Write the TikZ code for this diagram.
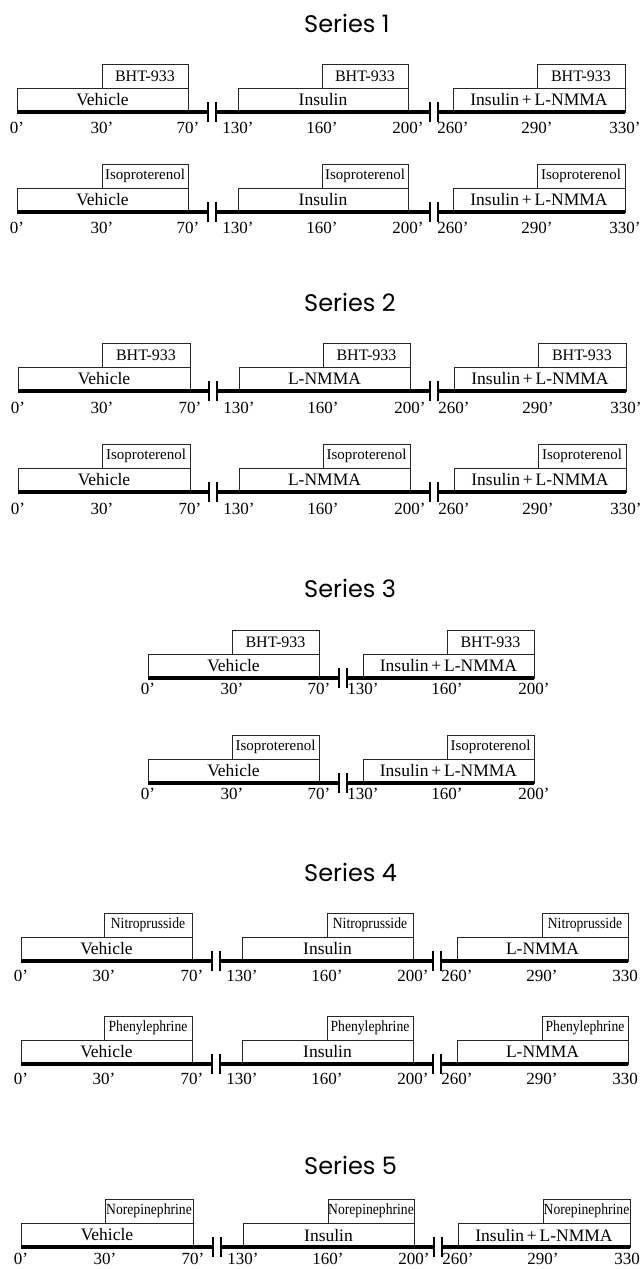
\documentclass[tikz,border=0pt]{standalone}
\usepackage{fontspec}
\setmainfont{Liberation Serif}
\newfontfamily\titlefont{Poppins}
\newfontfamily\drugfont[FakeStretch=0.88]{Liberation Serif}
\usetikzlibrary{positioning}
\newcommand{\BHT}{{\normalfont\fontsize{16}{16}\selectfont BHT-933}}
\newcommand{\Iso}{{\normalfont\fontsize{15}{15}\selectfont Isoproterenol}}
\newcommand{\InsL}{Insulin\,+\,L-NMMA}
\newcommand{\lastT}{330\hphantom{'}}
% one infusion period: name, left, drug start, right, main text, drug text, three times
\newcommand{\seg}[9]{%
	\node[mainbox,minimum width={(#4-#2)*1pt}](#1) at (#2,\ly) {#5};
	\node[drugbox,minimum width={(#4-#3)*1pt}](#1d) at (#1.north east) {#6};
	\node[tick](#1t1) at (#2,\ly+\toff) {#7};
	\node[tick](#1t2) at (#3,\ly+\toff) {#8};
	\node[tick](#1t3) at (#4,\ly+\toff) {#9};
}
% break in the time axis
\newcommand{\brk}[2]{%
	\coordinate (#1a) at (#2,\ly);
	\coordinate (#1b) at (#2+8,\ly);
	\draw[brkmark] ([yshift=10pt]#1a) -- ([yshift=-10pt]#1a);
	\draw[brkmark] ([yshift=10pt]#1b) -- ([yshift=-10pt]#1b);
}

\begin{document}
\begin{tikzpicture}[x=1pt,y=-1pt,% styles for all rows
		mainbox/.style={
			rectangle,draw=black!85,line width=0.7pt,
			anchor=south west,minimum height=24pt,
			inner sep=0pt,outer sep=0pt,
			font=\fontsize{17.5}{17.5}\selectfont
		},
		drugbox/.style={
			rectangle,draw=black!85,line width=0.7pt,
			anchor=south east,minimum height=24pt,
			inner sep=0pt,outer sep=0pt,
			font=\drugfont\fontsize{15.5}{15.5}\selectfont
		},
		tick/.style={anchor=north,inner sep=0pt,font=\fontsize{17}{17}\selectfont},
		timeline/.style={draw,line width=4pt},
		brkmark/.style={draw,line width=2.6pt},
		title/.style={anchor=west,inner sep=0pt,font=\titlefont\fontsize{24}{24}\selectfont}
	]
	\useasboundingbox (0,0) rectangle (640,1269);

	% Series 1
	\node[title](T1) at (304,23) {Series 1};
	\def\ly{112}\def\toff{10}
	\seg{s11a}{17}{102}{188}{Vehicle}{\BHT}{0'}{30'}{70'}
	\brk{s11x}{208}
	\seg{s11b}{238}{322}{408}{Insulin}{\BHT}{130'}{160'}{200'}
	\brk{s11y}{430}
	\seg{s11c}{453}{537}{625}{\InsL}{\BHT}{260'}{290'}{330'}
	\draw[timeline] (s11a.south west) -- (s11xa) (s11xb) -- (s11ya) (s11yb) -- (s11c.south east);

	\def\ly{212}
	\seg{s12a}{17}{102}{188}{Vehicle}{\Iso}{0'}{30'}{70'}
	\brk{s12x}{208}
	\seg{s12b}{238}{322}{408}{Insulin}{\Iso}{130'}{160'}{200'}
	\brk{s12y}{430}
	\seg{s12c}{453}{537}{625}{\InsL}{\Iso}{260'}{290'}{330'}
	\draw[timeline] (s12a.south west) -- (s12xa) (s12xb) -- (s12ya) (s12yb) -- (s12c.south east);

	% Series 2
	\node[title](T2) at (304,302) {Series 2};
	\def\ly{391}\def\toff{11}
	\seg{s21a}{18}{102}{190}{Vehicle}{\BHT}{0'}{30'}{70'}
	\brk{s21x}{209}
	\seg{s21b}{239}{323}{410}{L-NMMA}{\BHT}{130'}{160'}{200'}
	\brk{s21y}{430}
	\seg{s21c}{454}{538}{626}{\InsL}{\BHT}{260'}{290'}{330'}
	\draw[timeline] (s21a.south west) -- (s21xa) (s21xb) -- (s21ya) (s21yb) -- (s21c.south east);

	\def\ly{492}
	\seg{s22a}{18}{102}{190}{Vehicle}{\Iso}{0'}{30'}{70'}
	\brk{s22x}{209}
	\seg{s22b}{239}{323}{410}{L-NMMA}{\Iso}{130'}{160'}{200'}
	\brk{s22y}{430}
	\seg{s22c}{454}{538}{626}{\InsL}{\Iso}{260'}{290'}{330'}
	\draw[timeline] (s22a.south west) -- (s22xa) (s22xb) -- (s22ya) (s22yb) -- (s22c.south east);

	% Series 3
	\node[title](T3) at (304,588) {Series 3};
	\def\ly{678}\def\toff{5}
	\seg{s31a}{148}{232}{319}{Vehicle}{\BHT}{0'}{30'}{70'}
	\brk{s31x}{339}
	\seg{s31b}{363}{447}{534}{\InsL}{\BHT}{130'}{160'}{200'}
	\draw[timeline] (s31a.south west) -- (s31xa) (s31xb) -- (s31b.south east);

	\def\ly{783}
	\seg{s32a}{148}{232}{319}{Vehicle}{\Iso}{0'}{30'}{70'}
	\brk{s32x}{339}
	\seg{s32b}{363}{447}{534}{\InsL}{\Iso}{130'}{160'}{200'}
	\draw[timeline] (s32a.south west) -- (s32xa) (s32xb) -- (s32b.south east);

	% Series 4
	\node[title](T4) at (304,872) {Series 4};
	\def\ly{961}\def\toff{9}
	\seg{s41a}{21}{104}{192}{Vehicle}{Nitroprusside}{0'}{30'}{70'}
	\brk{s41x}{212}
	\seg{s41b}{242}{327}{413}{Insulin}{Nitroprusside}{130'}{160'}{200'}
	\brk{s41y}{433}
	\seg{s41c}{457}{542}{628}{L-NMMA}{Nitroprusside}{260'}{290'}{\lastT}
	\draw[timeline] (s41a.south west) -- (s41xa) (s41xb) -- (s41ya) (s41yb) -- (s41c.south east);

	\def\ly{1064}
	\seg{s42a}{21}{104}{192}{Vehicle}{Phenylephrine}{0'}{30'}{70'}
	\brk{s42x}{212}
	\seg{s42b}{242}{327}{413}{Insulin}{Phenylephrine}{130'}{160'}{200'}
	\brk{s42y}{433}
	\seg{s42c}{457}{542}{628}{L-NMMA}{Phenylephrine}{260'}{290'}{\lastT}
	\draw[timeline] (s42a.south west) -- (s42xa) (s42xb) -- (s42ya) (s42yb) -- (s42c.south east);

	% Series 5
	\node[title](T5) at (304,1165) {Series 5};
	\def\ly{1247}\def\toff{6}
	\seg{s51a}{21}{105}{193}{Vehicle}{Norepinephrine}{0'}{30'}{70'}
	\brk{s51x}{213}
	\seg{s51b}{243}{328}{414}{Insulin}{Norepinephrine}{130'}{160'}{200'}
	\brk{s51y}{434}
	\seg{s51c}{458}{543}{630}{\InsL}{Norepinephrine}{260'}{290'}{\lastT}
	\draw[timeline] (s51a.south west) -- (s51xa) (s51xb) -- (s51ya) (s51yb) -- (s51c.south east);
\end{tikzpicture}
\end{document}
